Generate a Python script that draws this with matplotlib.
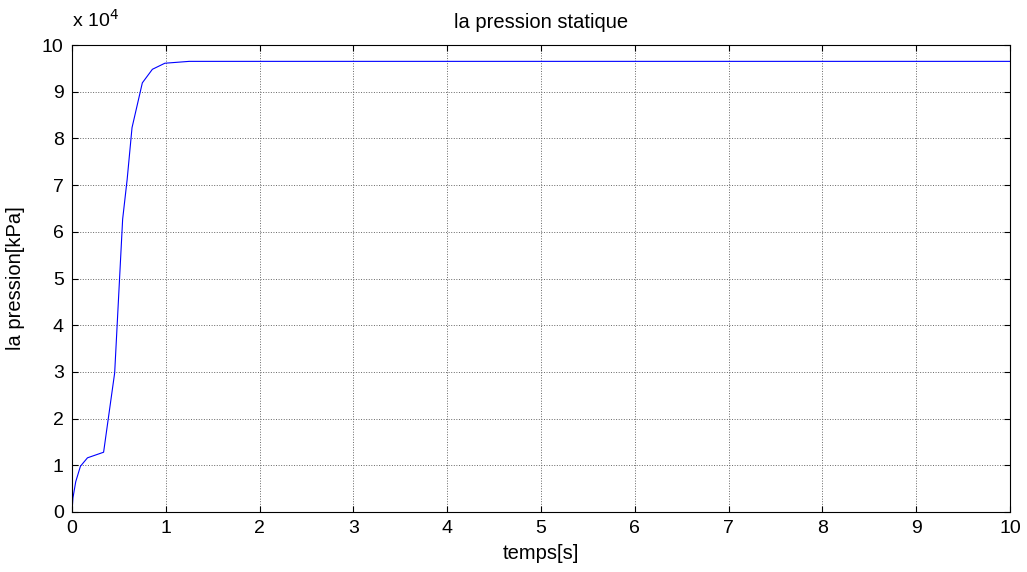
import numpy as np
import matplotlib
matplotlib.use('Agg')
from matplotlib import pyplot as plt

# values (pressure in Pa)
temps = [0, 0.01, 0.04, 0.09, 0.165, 0.337, 0.455, 0.54, 0.588, 0.64, 0.75, 0.857, 0.99, 1.25, 10]
pression = [0, 3000, 6500, 9800, 11600, 12800, 29800, 62700, 71200, 82300, 91900, 94800, 96100, 96500, 96500]
yticks = [0, 1, 2, 3, 4, 5, 6, 7, 8, 9, 10]
xticks = [0, 1, 2, 3, 4, 5, 6, 7, 8, 9, 10]

plt.rcParams['font.family'] = ['Liberation Sans', 'DejaVu Sans']
plt.rcParams['font.size'] = 14

fig = plt.figure(figsize=(10.27, 5.72), dpi=100)
ax = fig.add_axes([0.0701, 0.1049, 0.9133, 0.8164])
ax.plot(temps, np.array(pression) / 1e4, color='blue', linewidth=0.8)
ax.set_xlim(0, 10)
ax.set_ylim(0, 10)
ax.set_xticks(xticks)
ax.set_yticks(yticks)
ax.grid(True, linestyle=':', color='#666666', linewidth=0.7)
ax.tick_params(direction='in', length=4, top=True, right=True, labelsize=14, pad=6)
for s in ax.spines.values():
    s.set_linewidth(0.8)
ax.set_title('la pression statique', fontsize=14.5, pad=12)
ax.set_xlabel('temps[s]', fontsize=14.5, labelpad=5)
ax.set_ylabel('la pression[kPa]', fontsize=14.5, labelpad=12)
ax.text(0.0, 1.03, r'x 10$^4$', transform=ax.transAxes, fontsize=14, ha='left', va='bottom')

fig.savefig('out.png', dpi=100)
